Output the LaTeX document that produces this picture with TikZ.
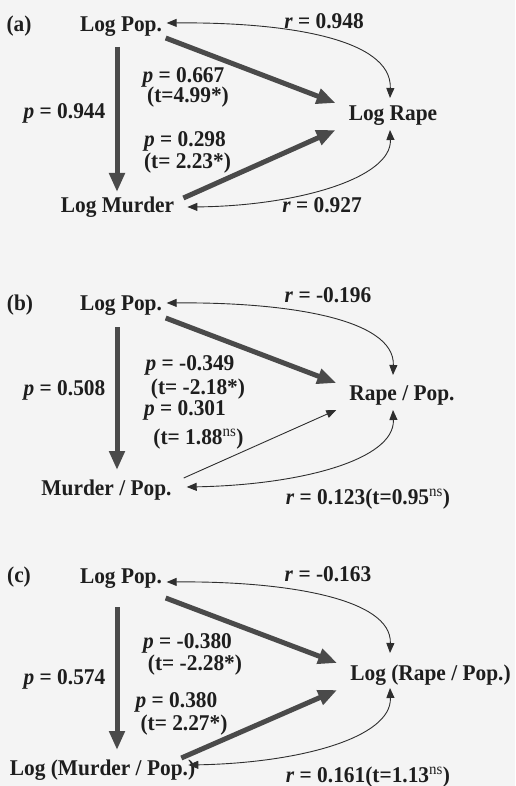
\documentclass[tikz,border=0pt]{standalone}
\usepackage{fontspec}
\setmainfont{Liberation Serif}[FakeStretch=0.95]
\usetikzlibrary{arrows.meta,calc}
\definecolor{ink}{HTML}{1E1E1E}
\definecolor{thick}{HTML}{4A4A4A}
\definecolor{thin}{HTML}{2E2E2E}
\definecolor{paper}{HTML}{F4F4F4}
\tikzset{
  lbl/.style={inner sep=0pt, anchor=base, text=ink, font=\fontsize{22.5}{26}\selectfont\bfseries},
  tight/.style={text depth=0pt},
  heavy/.style={draw=thick, line width=5pt, -{Triangle[length=19pt,width=15pt]}},
  light/.style={draw=thin, line width=0.9pt, -{Triangle[length=10pt,width=8pt]}},
  twoway/.style={draw=thin, line width=0.9pt, {Triangle[length=10pt,width=8pt]}-{Triangle[length=10pt,width=8pt]}},
}
\newcommand{\pv}{\textit{p} = }
\newcommand{\rv}{\textit{r} = }
\newcommand{\nsup}{\textsuperscript{\mdseries ns}}
\begin{document}
\begin{tikzpicture}[x=1pt,y=-1pt]
\useasboundingbox[fill=paper] (0,0) rectangle (515,786);
% ---------------- (a)
\node[lbl] (la) at (19,32) {(a)};
\node[lbl] (alp) at (121,32) {Log Pop.};
\node[lbl] (ar1) at (324,29) {\rv0.948};
\node[lbl] (alr) at (393,121) {Log Rape};
\node[lbl] (alm) at (117.5,213) {Log Murder};
\node[lbl] (ar2) at (322,213) {\rv0.927};
\node[lbl] (ap0) at (64.5,119) {\pv0.944};
\node[lbl,tight] (ap1) at (183.5,82.5) {\pv0.667};
\node[lbl] (at1) at (188,103) {(t=4.99*)};
\node[lbl,tight] (ap2) at (185,147) {\pv0.298};
\node[lbl] (at2) at (187.5,169) {(t= 2.23*)};
\draw[heavy] ($(alp.base)+(-4,15)$) -- ($(alm.base)+(-0.5,-21)$);
\draw[heavy] ($(alp.base east)+(3.5,6)$) -- ($(alr.base west)+(-13,-18)$);
\draw[heavy] ($(alm.base east)+(9,-15)$) -- ($(alr.base west)+(-13,9)$);
\draw[twoway] ($(alp.base east)+(4.5,-9)$) .. controls +(117,-1) and +(2,-60) .. ($(alr.base)+(-3,-23)$);
\draw[twoway] ($(alm.base east)+(13,-6)$) .. controls +(110,-1) and +(2,48) .. ($(alr.base)+(-3,9)$);
% ---------------- (b)
\node[lbl] (lb) at (20,310) {(b)};
\node[lbl] (blp) at (121,310) {Log Pop.};
\node[lbl] (br1) at (328,302) {\rv-0.196};
\node[lbl] (brp) at (402,400) {Rape / Pop.};
\node[lbl] (bp0) at (64.5,395) {\pv0.508};
\node[lbl,tight] (bp1) at (190,370) {\pv-0.349};
\node[lbl] (bt1) at (198,394) {(t= -2.18*)};
\node[lbl,tight] (bp2) at (185,415) {\pv0.301};
\node[lbl] (bt2) at (198.5,444) {(t= 1.88\nsup)};
\node[lbl] (bmp) at (106.5,495) {Murder / Pop.};
\node[lbl] (br2) at (368,504) {\rv0.123(t=0.95\nsup)};
\draw[heavy] ($(blp.base)+(-4,17)$) -- ($(bmp.base)+(10.5,-25)$);
\draw[heavy] ($(blp.base east)+(3.5,8)$) -- ($(brp.base west)+(-13,-17)$);
\draw[light] ($(bmp.base east)+(12,-17)$) -- ($(brp.base west)+(-13,10)$);
\draw[twoway] ($(blp.base east)+(4.5,-7)$) .. controls +(117,-1) and +(2,-57) .. ($(brp.base)+(-9,-25)$);
\draw[twoway] ($(bmp.base east)+(15,-8)$) .. controls +(113,-2) and +(2,50) .. ($(brp.base)+(-9,10)$);
% ---------------- (c)
\node[lbl] (lc) at (19,582) {(c)};
\node[lbl] (clp) at (121,583) {Log Pop.};
\node[lbl] (cr1) at (328,581) {\rv-0.163};
\node[lbl] (clr) at (430.5,680) {Log (Rape / Pop.)};
\node[lbl] (cp0) at (64.5,684) {\pv0.574};
\node[lbl,tight] (cp1) at (187.5,648) {\pv-0.380};
\node[lbl] (ct1) at (195,670) {(t= -2.28*)};
\node[lbl,tight] (cp2) at (176.5,707.5) {\pv0.380};
\node[lbl] (ct2) at (184,730) {(t= 2.27*)};
\node[lbl] (clm) at (102.5,775) {Log (Murder / Pop.)};
\node[lbl] (cr2) at (368,782) {\rv0.161(t=1.13\nsup)};
\draw[heavy] ($(clp.base)+(-4,24)$) -- ($(clm.base)+(14.5,-25)$);
\draw[heavy] ($(clp.base east)+(3.5,15)$) -- ($(clr.base west)+(-13,-17)$);
\draw[heavy] ($(clm.base east)+(-14,-17)$) -- ($(clr.base west)+(-13,10)$);
\draw[twoway] ($(clp.base east)+(4.5,-1)$) .. controls +(117,-1) and +(2,-55) .. ($(clr.base)+(-40.5,-27)$);
\draw[twoway] ($(clm.base east)+(-7,-10)$) .. controls +(110,-2) and +(2,50) .. ($(clr.base)+(-40.5,8)$);
\end{tikzpicture}
\end{document}
